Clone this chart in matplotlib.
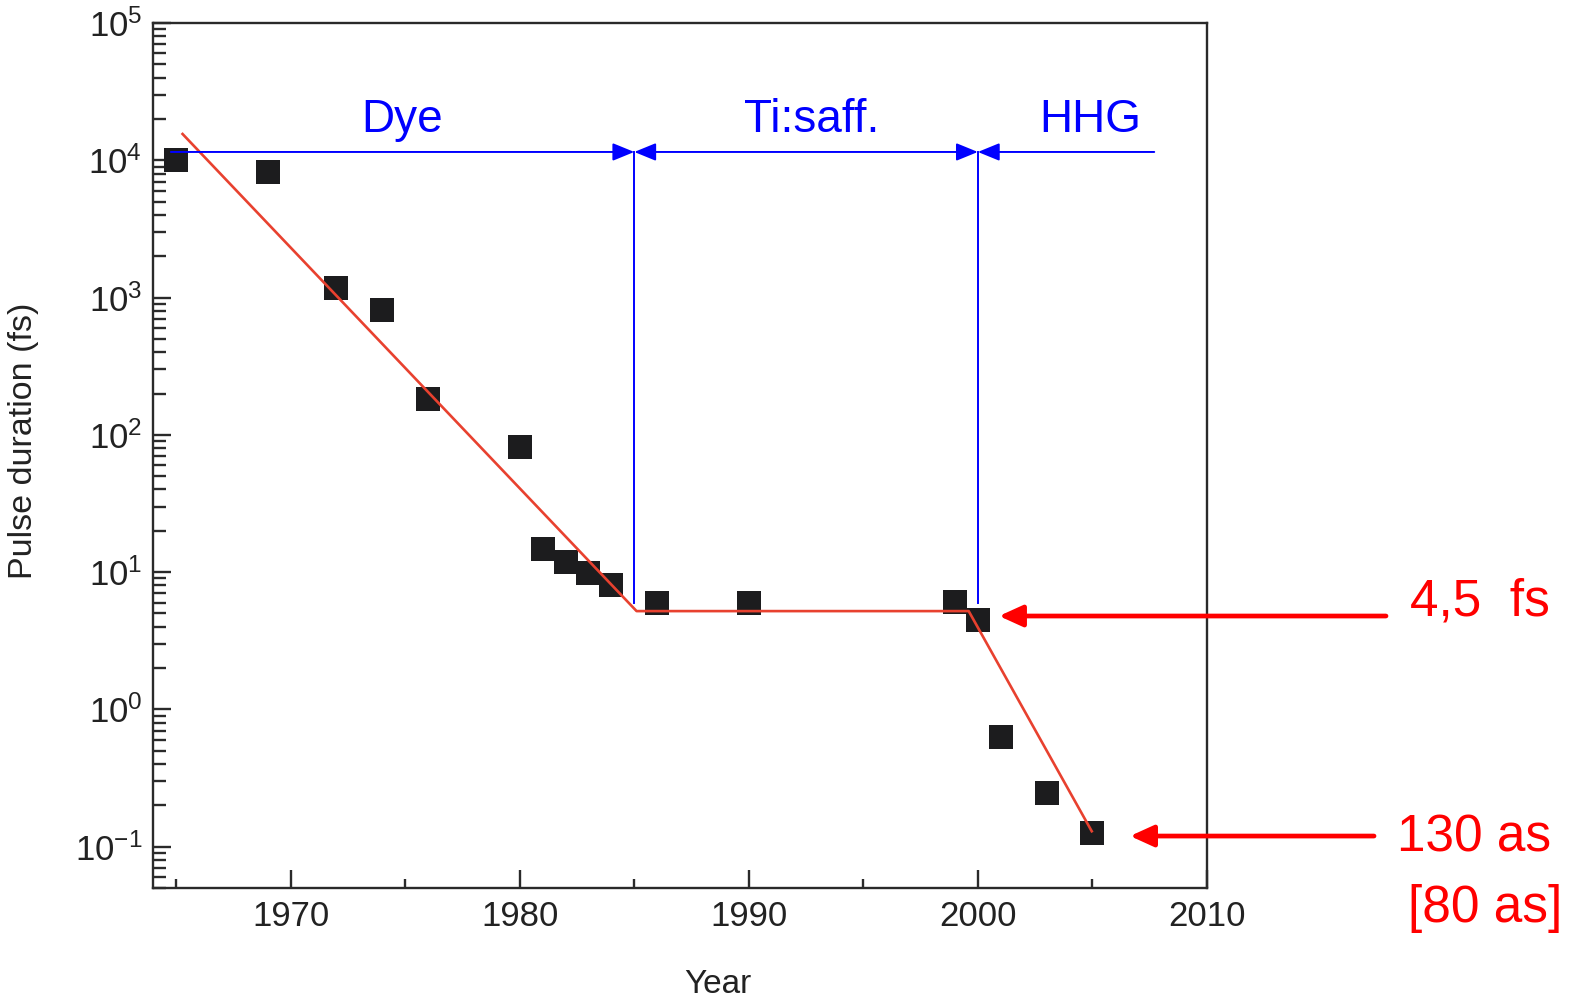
import matplotlib
matplotlib.use("Agg")
import matplotlib.pyplot as plt
from matplotlib.ticker import MultipleLocator, LogLocator, NullFormatter

# ---- data ----
years = [1965, 1969, 1972, 1974, 1976, 1980, 1981, 1982, 1983, 1984,
         1986, 1990, 1999, 2000, 2001, 2003, 2005]
pulse_fs = [10000, 8150, 1180, 813, 183, 81.5, 14.8, 11.9, 9.9, 8.1,
            5.96, 5.96, 6.05, 4.5, 0.632, 0.246, 0.125]

trend_years = [1965.24, 1985.1, 1999.6, 2005.0]
trend_fs = [15800, 5.2, 5.2, 0.127]

era_labels = ["Dye", "Ti:saff.", "HHG"]
era_label_x = [1974.86, 1992.75, 2004.9]
era_bounds = [1964.77, 1985.0, 2000.0, 2007.7]
era_line_y = 1.15e4
era_label_y = 16200
era_vline_bottom = 6.0

plt.rcParams['mathtext.default'] = 'regular'
plt.rcParams['font.family'] = ['Liberation Sans', 'DejaVu Sans']

fig = plt.figure(figsize=(15.75, 10.01), dpi=100)
ax = fig.add_axes([0.0973, 0.1129, 0.669, 0.8641])

ax.set_yscale('log')
ax.set_xlim(1964, 2010)
ax.set_ylim(0.05, 1e5)

# trend line
ax.plot(trend_years, trend_fs, color='#e8412f', lw=1.9, zorder=3, solid_capstyle='butt')
# data squares
ax.plot(years, pulse_fs, ls='none', marker='s', markersize=17.3,
        color='#1c1c1e', markeredgewidth=0, zorder=2)

# era arrows (blue)
blue = '#0000ff'
akw = dict(color=blue, lw=1.4, shrinkA=0, shrinkB=0, mutation_scale=12)
ax.annotate('', xy=(era_bounds[1], era_line_y), xytext=(era_bounds[0], era_line_y),
            arrowprops=dict(arrowstyle='-|>,head_length=1.1,head_width=0.45', **akw))
ax.annotate('', xy=(era_bounds[2], era_line_y), xytext=(era_bounds[1], era_line_y),
            arrowprops=dict(arrowstyle='<|-|>,head_length=1.1,head_width=0.45', **akw))
ax.annotate('', xy=(era_bounds[3], era_line_y), xytext=(era_bounds[2], era_line_y),
            arrowprops=dict(arrowstyle='<|-,head_length=1.1,head_width=0.45', **akw))
for xb in era_bounds[1:3]:
    ax.plot([xb, xb], [era_vline_bottom, era_line_y], color=blue, lw=1.4, zorder=4)
for lab, xl in zip(era_labels, era_label_x):
    ax.text(xl, era_label_y, lab, color=blue, fontsize=33, ha='center', va='baseline')

# axes styling
spine_c = '#2a2a2a'
for s in ax.spines.values():
    s.set_color(spine_c)
    s.set_linewidth(1.7)

ax.xaxis.set_major_locator(MultipleLocator(10))
ax.xaxis.set_minor_locator(MultipleLocator(5))
ax.yaxis.set_major_locator(LogLocator(base=10, numticks=20))
ax.yaxis.set_minor_locator(LogLocator(base=10, subs=range(2, 10), numticks=20))
ax.yaxis.set_minor_formatter(NullFormatter())

ax.tick_params(which='both', direction='in', top=False, right=False, color=spine_c, width=1.7)
ax.tick_params(axis='x', which='major', length=13, pad=9, labelsize=25,
               labelcolor='#222222')
ax.tick_params(axis='x', which='minor', length=6.5)
ax.tick_params(axis='y', which='major', length=13, pad=8, labelsize=25,
               labelcolor='#222222')
ax.tick_params(axis='y', which='minor', length=9.4)

ax.set_xlabel('Year', fontsize=24, color='#222222')
ax.xaxis.label.set_verticalalignment('baseline')
ax.xaxis.set_label_coords(0.5355, -0.1217)
ax.set_ylabel('Pulse duration (fs)', fontsize=24.5, color='#222222')
ax.yaxis.label.set_verticalalignment('center')
ax.yaxis.set_label_coords(-0.1227, 0.517)

# red annotations outside the axes (figure fraction)
red = '#ff0000'
rkw = dict(color=red, lw=3.4, shrinkA=0, shrinkB=0, mutation_scale=13)
fig.add_artist(matplotlib.patches.FancyArrowPatch(
    (0.880, 0.3846), (0.6343, 0.3846), transform=fig.transFigure,
    arrowstyle='-|>,head_length=1.1,head_width=0.5', **rkw))
fig.add_artist(matplotlib.patches.FancyArrowPatch(
    (0.8724, 0.1648), (0.7175, 0.1648), transform=fig.transFigure,
    arrowstyle='-|>,head_length=1.1,head_width=0.5', **rkw))
fig.text(0.8952, 0.3856, '4,5  fs', color=red, fontsize=37, ha='left', va='baseline')
fig.text(0.887, 0.1489, '130 as', color=red, fontsize=37, ha='left', va='baseline')
fig.text(0.894, 0.0789, '[80 as]', color=red, fontsize=37, ha='left', va='baseline')

fig.savefig('out.png', dpi=100, facecolor='white')
